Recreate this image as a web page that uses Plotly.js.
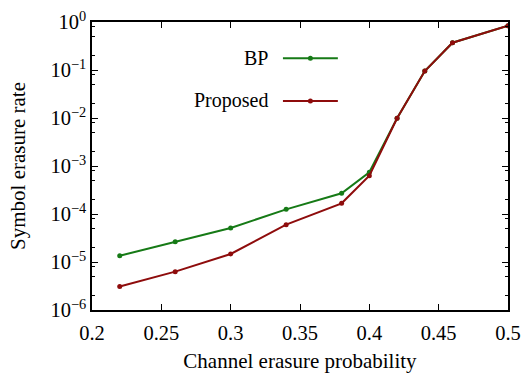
<!DOCTYPE html>
<html><head><meta charset="utf-8">
<script src="https://cdn.plot.ly/plotly-3.0.1.min.js"></script>
<style>html,body{margin:0;padding:0;background:#fff}#chart{width:524px;height:374px}</style>
</head><body><div id="chart"></div>
<script>
const erasureProb = [0.22, 0.26, 0.30, 0.34, 0.38, 0.40, 0.42, 0.44, 0.46, 0.50];
const bpRate = [1.35e-5, 2.65e-5, 5.1e-5, 1.25e-4, 2.7e-4, 7.4e-4, 9.9e-3, 0.095, 0.37, 0.84];
const proposedRate = [3.1e-6, 6.3e-6, 1.47e-5, 6.0e-5, 1.67e-4, 6.3e-4, 9.9e-3, 0.095, 0.37, 0.84];
const seriesNames = ["BP", "Proposed"];
const yTickVals = [1e-6, 1e-5, 1e-4, 1e-3, 1e-2, 1e-1, 1];
const yExponents = ["−6", "−5", "−4", "−3", "−2", "−1", "0"];
const xTickVals = [0.2, 0.25, 0.3, 0.35, 0.4, 0.45, 0.5];
const xTickText = ["0.2", "0.25", "0.3", "0.35", "0.4", "0.45", "0.5"];
const yTickText = yExponents.map(e => "10<sup>" + e + "</sup>");

const green = "#167a16", red = "#8e0c0c";
const fam = "Liberation Serif";

const minorVals = [];
for (let e = -6; e < 0; e++) for (const m of [2, 5, 8]) minorVals.push(m * Math.pow(10, e));

const traces = [
  {x: erasureProb, y: bpRate, name: seriesNames[0], mode: "lines+markers",
   line: {color: green, width: 2}, marker: {color: green, size: 5}},
  {x: erasureProb, y: proposedRate, name: seriesNames[1], mode: "lines+markers",
   line: {color: red, width: 2}, marker: {color: red, size: 5}}
];

const legY = [0.874, 0.726];
const legCol = [green, red];
const shapes = [], annotations = [];
legY.forEach((y, i) => {
  shapes.push({type: "line", xref: "paper", yref: "paper", x0: 0.459, x1: 0.591, y0: y, y1: y,
               line: {color: legCol[i], width: 2}});
  shapes.push({type: "circle", xref: "paper", yref: "paper", xsizemode: "pixel", ysizemode: "pixel",
               xanchor: 0.525, yanchor: y, x0: -2.5, x1: 2.5, y0: -2.5, y1: 2.5,
               fillcolor: legCol[i], line: {width: 0}});
  annotations.push({xref: "paper", yref: "paper", x: 0.428, y: y, xanchor: "right", yanchor: "middle",
                    text: seriesNames[i], showarrow: false, font: {family: fam, size: 20, color: "#000"}});
});

const layout = {
  width: 524, height: 374,
  margin: {l: 92, r: 16, t: 22, b: 64},
  paper_bgcolor: "#fff", plot_bgcolor: "#fff",
  showlegend: false,
  font: {family: fam, size: 20, color: "#000"},
  xaxis: {range: [0.2, 0.5], tickvals: xTickVals, ticktext: xTickText,
          ticks: "inside", ticklen: 6, tickcolor: "#000", mirror: "ticks", ticklabelstandoff: 4,
          showline: true, linecolor: "#000", linewidth: 1.5, showgrid: false, zeroline: false,
          title: {text: "Channel erasure probability", font: {family: fam, size: 21}, standoff: 10},
          tickfont: {family: fam, size: 20.5}},
  yaxis: {type: "log", range: [-6, 0], tickvals: yTickVals, ticktext: yTickText,
          ticks: "inside", ticklen: 6, tickcolor: "#000", mirror: "ticks",
          showline: true, linecolor: "#000", linewidth: 1.5, showgrid: false, zeroline: false,
          minor: {tickvals: minorVals, ticks: "inside", ticklen: 3, tickcolor: "#000", showgrid: false},
          title: {text: "Symbol erasure rate", font: {family: fam, size: 21}, standoff: 19},
          tickfont: {family: fam, size: 20.5}},
  shapes: shapes,
  annotations: annotations
};

Plotly.newPlot("chart", traces, layout, {displayModeBar: false});
</script></body></html>
